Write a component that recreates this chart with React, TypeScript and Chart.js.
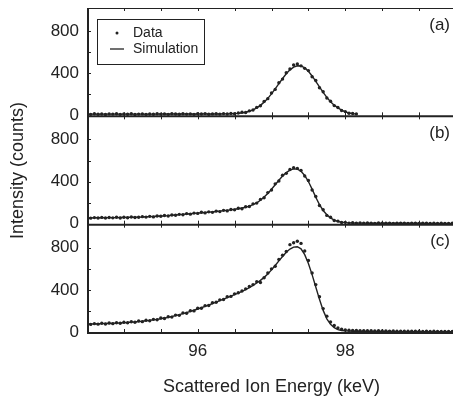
import React, { useEffect, useRef } from "react";
import { Chart, registerables } from "chart.js";

Chart.register(...registerables);

// Energy grid (keV)
const energies = [
  94.5, 94.55, 94.6, 94.65, 94.7, 94.75, 94.8, 94.85, 94.9, 94.95,
  95.0, 95.05, 95.1, 95.15, 95.2, 95.25, 95.3, 95.35, 95.4, 95.45,
  95.5, 95.55, 95.6, 95.65, 95.7, 95.75, 95.8, 95.85, 95.9, 95.95,
  96.0, 96.05, 96.1, 96.15, 96.2, 96.25, 96.3, 96.35, 96.4, 96.45,
  96.5, 96.55, 96.6, 96.65, 96.7, 96.75, 96.8, 96.85, 96.9, 96.95,
  97.0, 97.05, 97.1, 97.15, 97.2, 97.25, 97.3, 97.35, 97.4, 97.45,
  97.5, 97.55, 97.6, 97.65, 97.7, 97.75, 97.8, 97.85, 97.9, 97.95,
  98.0, 98.05, 98.1, 98.15, 98.2, 98.25, 98.3, 98.35, 98.4, 98.45,
  98.5, 98.55, 98.6, 98.65, 98.7, 98.75, 98.8, 98.85, 98.9, 98.95,
  99.0, 99.05, 99.1, 99.15, 99.2, 99.25, 99.3, 99.35, 99.4, 99.45,
  99.5,
];

// Panel (a)
const simA = [
  11, 11, 11, 11, 11, 11, 11, 11, 11, 11,
  11, 11, 11, 11, 11, 11, 11, 11, 11, 11,
  12, 12, 12, 12, 12, 12, 12, 12, 12, 12,
  12, 12, 12, 12, 12, 12, 12,
  13, 13, 14, 16, 18, 22, 29, 38, 52, 70, 94, 125, 161,
  204, 251, 301, 350, 395, 432, 458, 471, 469, 451,
  418, 374, 323, 270, 218, 170, 129, 96, 70, 50,
  32, 22, 16, 12,
];
const dataA = [
  13, 9, 14, 10, 12, 8, 13, 11, 15, 9,
  12, 10, 14, 8, 11, 13, 9, 12, 10, 14,
  11, 13, 9, 14, 12, 10, 15, 11, 13, 9,
  14, 12, 16, 10, 13, 15, 11,
  16, 12, 18, 14, 22, 30, 26, 42, 50, 75, 90, 132, 158,
  212, 246, 310, 344, 405, 440, 478, 488, 470, 446,
  425, 366, 330, 262, 224, 164, 134, 92, 74, 46,
  35, 20, 17, 13,
];

// Panel (b)
const simB = [
  55, 55, 56, 56, 56, 56, 57, 57, 57, 58,
  58, 59, 60, 61, 62, 63, 65, 66, 68, 70,
  72, 74, 76, 79, 82, 85, 88, 91, 94, 97,
  100, 103, 106, 109, 112, 115, 119, 123, 127, 131,
  136, 141, 148, 156, 166, 180, 198, 222, 252, 287,
  327, 370, 412, 452, 485, 508, 520, 518, 498, 458,
  400, 328, 250, 180, 125, 84, 54, 33, 20, 13,
  9, 7, 6, 5, 5, 5, 4, 4, 4, 4,
  4, 4, 3, 3, 3, 3, 3, 3, 3, 3,
  3, 3, 2, 2, 2, 2, 2, 2, 2, 2,
  2,
];
const dataB = [
  58, 52, 57, 54, 59, 53, 58, 55, 60, 54,
  61, 56, 63, 58, 60, 66, 62, 69, 64, 72,
  70, 77, 73, 82, 79, 88, 84, 95, 90, 100,
  97, 108, 102, 112, 107, 119, 114, 126, 121, 134,
  131, 146, 142, 160, 163, 188, 195, 230, 246, 295,
  320, 378, 405, 460, 478, 515, 532, 525, 506, 452,
  410, 320, 258, 172, 132, 78, 60, 30, 24, 11,
  12, 5, 8, 4, 7, 3, 6, 5, 2, 6,
  3, 5, 4, 2, 5, 3, 4, 2, 4, 3,
  2, 4, 3, 1, 3, 2, 3, 1, 2, 3,
  2,
];

// Panel (c)
const simC = [
  75, 76, 77, 78, 79, 80, 81, 83, 84, 86,
  88, 90, 93, 96, 99, 102, 106, 110, 115, 120,
  126, 132, 139, 147, 155, 164, 174, 184, 195, 206,
  218, 230, 243, 256, 270, 284, 298, 312, 326, 340,
  355, 370, 386, 403, 421, 442, 465, 490, 519, 552,
  590, 632, 676, 718, 758, 788, 806, 810, 790, 735,
  650, 545, 428, 310, 205, 125, 72, 40, 22, 14,
  10, 8, 7, 6, 6, 5, 5, 5, 4, 4,
  4, 4, 4, 4, 3, 3, 3, 3, 3, 3,
  3, 3, 3, 3, 2, 2, 2, 2, 2, 2,
  2,
];
const dataC = [
  80, 72, 79, 74, 82, 76, 85, 79, 88, 83,
  92, 87, 97, 92, 104, 98, 111, 106, 120, 116,
  132, 128, 145, 141, 160, 158, 181, 178, 202, 200,
  225, 226, 250, 252, 278, 282, 305, 308, 335, 338,
  362, 372, 390, 410, 432, 450, 478, 470, 515, 560,
  600, 625, 690, 730, 765, 830, 848, 862, 842, 770,
  680, 560, 450, 335, 222, 150, 95, 62, 38, 25,
  19, 16, 14, 15, 12, 13, 11, 12, 10, 11,
  9, 10, 8, 9, 7, 8, 7, 6, 8, 6,
  7, 5, 6, 5, 6, 4, 5, 4, 5, 4,
  4,
];

const panelLabels = ["(a)", "(b)", "(c)"];
const panelIds = ["ya", "yb", "yc"];
const xTickValues = [96, 98];
const xMinorTicks = [95, 95.5, 96, 96.5, 97, 97.5, 98, 98.5, 99, 99.5];
const yTickValues = [0, 400, 800];
const yMarkValues = [200, 400, 600, 800];
const xTitle = "Scattered Ion Energy (keV)";
const yTitle = "Intensity (counts)";
const legendLabels = ["Data", "Simulation"];

const INK = "#222222";
const FONT = "'Liberation Sans', Arial, Helvetica, sans-serif";

function toPoints(values: number[]) {
  return values.map((v, i) => ({ x: energies[i], y: v }));
}

const framePlugin = {
  id: "frame",
  afterDraw(chart: any) {
    const { ctx, chartArea } = chart;
    const xs = chart.scales.x;
    ctx.save();
    ctx.strokeStyle = INK;
    ctx.fillStyle = INK;
    // top border
    ctx.lineWidth = 1;
    ctx.beginPath();
    ctx.moveTo(chartArea.left, chartArea.top + 0.5);
    ctx.lineTo(chartArea.right, chartArea.top + 0.5);
    ctx.stroke();
    // left border
    ctx.lineWidth = 2;
    ctx.beginPath();
    ctx.moveTo(chartArea.left + 1, chartArea.top);
    ctx.lineTo(chartArea.left + 1, chartArea.bottom + 1);
    ctx.stroke();

    panelIds.forEach((id, i) => {
      const s = chart.scales[id];
      ctx.lineWidth = 2;
      ctx.beginPath();
      ctx.moveTo(chartArea.left, s.bottom);
      ctx.lineTo(chartArea.right, s.bottom);
      ctx.stroke();
      ctx.lineWidth = 1;
      ctx.beginPath();
      for (const v of xMinorTicks) {
        const px = Math.round(xs.getPixelForValue(v)) + 0.5;
        ctx.moveTo(px, s.top);
        ctx.lineTo(px, s.top + 3);
        ctx.moveTo(px, s.bottom);
        ctx.lineTo(px, s.bottom - 4);
      }
      for (const v of yMarkValues) {
        const py = Math.round(s.getPixelForValue(v)) + 0.5;
        ctx.moveTo(chartArea.left, py);
        ctx.lineTo(chartArea.left + 4, py);
      }
      ctx.stroke();
      ctx.font = `17px ${FONT}`;
      ctx.textAlign = "right";
      ctx.textBaseline = "middle";
      ctx.fillText(panelLabels[i], chartArea.right - 6, s.top + 17);
    });

    // legend box
    const lx = chartArea.left + 10;
    const ly = chartArea.top + 11;
    ctx.lineWidth = 1;
    ctx.strokeRect(lx + 0.5, ly + 0.5, 107, 45);
    ctx.beginPath();
    ctx.arc(lx + 20, ly + 14, 1.5, 0, Math.PI * 2);
    ctx.fill();
    ctx.lineWidth = 1.3;
    ctx.beginPath();
    ctx.moveTo(lx + 13, ly + 30);
    ctx.lineTo(lx + 27, ly + 30);
    ctx.stroke();
    ctx.font = `14px ${FONT}`;
    ctx.textAlign = "left";
    ctx.textBaseline = "middle";
    ctx.fillText(legendLabels[0], lx + 36, ly + 14);
    ctx.fillText(legendLabels[1], lx + 36, ly + 30);
    ctx.restore();
  },
};

function yScale(weight: number, withTitle: boolean) {
  return {
    type: "linear",
    position: "left",
    stack: "panels",
    stackWeight: 1,
    weight,
    min: -10,
    max: 1020,
    afterBuildTicks: (s: any) => {
      s.ticks = yTickValues.map((v) => ({ value: v }));
    },
    afterFit: (s: any) => {
      s.width = 87;
      s.paddingTop = 0;
      s.paddingBottom = 0;
    },
    grid: { display: false, drawTicks: false },
    border: { display: false },
    ticks: { color: INK, font: { family: FONT, size: 17 }, padding: 8 },
    title: {
      display: withTitle,
      text: yTitle,
      color: INK,
      font: { family: FONT, size: 18 },
      padding: { top: 7, bottom: 0 },
    },
  };
}

export default function App() {
  const ref = useRef<HTMLCanvasElement | null>(null);
  useEffect(() => {
    if (!ref.current) return;
    const dataSets = [dataA, dataB, dataC];
    const simSets = [simA, simB, simC];
    const datasets: any[] = [];
    panelIds.forEach((id, i) => {
      datasets.push({
        label: `Data ${panelLabels[i]}`,
        data: toPoints(dataSets[i]),
        yAxisID: id,
        showLine: false,
        pointRadius: 1.7,
        pointBorderWidth: 0,
        pointBackgroundColor: INK,
        backgroundColor: INK,
      });
      datasets.push({
        label: `Simulation ${panelLabels[i]}`,
        data: toPoints(simSets[i]),
        yAxisID: id,
        showLine: true,
        borderColor: INK,
        borderWidth: 1.4,
        pointRadius: 0,
        tension: 0,
      });
    });
    const chart = new Chart(ref.current, {
      type: "scatter",
      data: { datasets },
      plugins: [framePlugin],
      options: {
        animation: false,
        responsive: false,
        maintainAspectRatio: false,
        events: [],
        layout: { padding: { left: 0, top: 8, right: 4, bottom: 0 } },
        plugins: { legend: { display: false }, tooltip: { enabled: false } },
        scales: {
          x: {
            type: "linear",
            position: "bottom",
            min: 94.5,
            max: 99.5,
            afterBuildTicks: (s: any) => {
              s.ticks = xTickValues.map((v) => ({ value: v }));
            },
            afterFit: (s: any) => {
              s.height = 68;
              s.paddingLeft = 0;
              s.paddingRight = 0;
            },
            grid: { display: false, drawTicks: false },
            border: { display: false },
            ticks: { color: INK, font: { family: FONT, size: 17 }, padding: 8, maxRotation: 0 },
            title: {
              display: true,
              text: xTitle,
              color: INK,
              font: { family: FONT, size: 18 },
              padding: { top: 0, bottom: 3 },
            },
          },
          ya: yScale(3, false),
          yb: yScale(2, true),
          yc: yScale(1, false),
        } as any,
      } as any,
    });
    return () => chart.destroy();
  }, []);

  return (
    <div
      style={{
        position: "fixed",
        left: 0,
        top: 0,
        width: 453,
        height: 401,
        overflow: "hidden",
        background: "#ffffff",
      }}
    >
      <canvas ref={ref} width={460} height={401} style={{ display: "block" }} />
    </div>
  );
}
